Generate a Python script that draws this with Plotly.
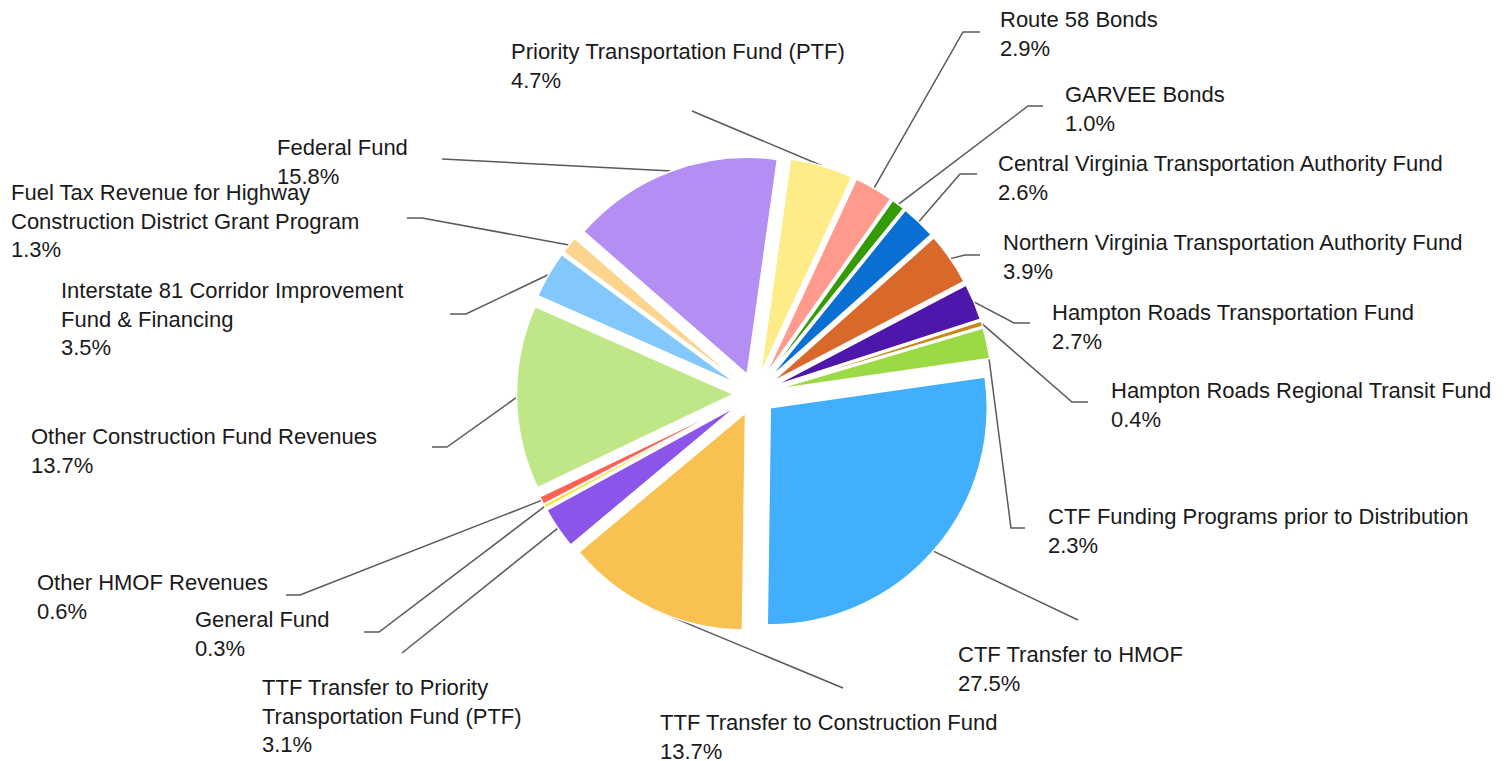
import math
import plotly.graph_objects as go

# ---------------- data ----------------
labels = [
    "Priority Transportation Fund (PTF)",
    "Route 58 Bonds",
    "GARVEE Bonds",
    "Central Virginia Transportation Authority Fund",
    "Northern Virginia Transportation Authority Fund",
    "Hampton Roads Transportation Fund",
    "Hampton Roads Regional Transit Fund",
    "CTF Funding Programs prior to Distribution",
    "CTF Transfer to HMOF",
    "TTF Transfer to Construction Fund",
    "TTF Transfer to Priority Transportation Fund (PTF)",
    "General Fund",
    "Other HMOF Revenues",
    "Other Construction Fund Revenues",
    "Interstate 81 Corridor Improvement Fund & Financing",
    "Fuel Tax Revenue for Highway Construction District Grant Program",
    "Federal Fund",
]
values = [4.7, 2.9, 1.0, 2.6, 3.9, 2.7, 0.4, 2.3, 27.5, 13.7, 3.1, 0.3, 0.6, 13.7, 3.5, 1.3, 15.8]
display_names = [
    "Priority Transportation Fund (PTF)",
    "Route 58 Bonds",
    "GARVEE Bonds",
    "Central Virginia Transportation Authority Fund",
    "Northern Virginia Transportation Authority Fund",
    "Hampton Roads Transportation Fund",
    "Hampton Roads Regional Transit Fund",
    "CTF Funding Programs prior to Distribution",
    "CTF Transfer to HMOF",
    "TTF Transfer to Construction Fund",
    "TTF Transfer to Priority<br>Transportation Fund (PTF)",
    "General Fund",
    "Other HMOF Revenues",
    "Other Construction Fund Revenues",
    "Interstate 81 Corridor Improvement<br>Fund & Financing",
    "Fuel Tax Revenue for Highway<br>Construction District Grant Program",
    "Federal Fund",
]

# ---------------- styles / layout ----------------
colors = [
    "#FEEC88", "#FF9A8D", "#349B06", "#0A6FD2", "#D9682B", "#4D17AB",
    "#C8891A", "#9CDA45", "#42AEFE", "#F9C152", "#8C55EA", "#F9E43E",
    "#FF6155", "#BFE787", "#82C8FD", "#FDD48D", "#B38EF3",
]
SCREEN_W, SCREEN_H = 1509, 761
PAGE_OFF = 8                       # default body margin of the html page
W, H = SCREEN_W - PAGE_OFF, SCREEN_H - PAGE_OFF
CX, CY = 754.5, 394.0              # pie centre (screen px)
R_PX = 217.0                       # pie radius (px)
PULL = 0.0968                      # explosion (fraction of radius)
ROTATION = 8.0
FONT = dict(family="Liberation Sans, Arial, Helvetica, sans-serif", size=22, color="#1a1a1a")
LINE_H = 22 * 1.3
LEADER_COLOR = "#595959"

# label text: left x, centre y of first line (screen px)
label_pos = [
    (510, 52), (999, 20), (1064, 95), (997, 164), (1002, 243), (1051, 313),
    (1110, 391), (1047, 517), (957, 655), (659, 723), (261, 687), (194, 620),
    (36, 583), (30, 437), (60, 290), (10, 192), (276, 148),
]
# leader points on the label side (screen px); the line then runs to the slice
leader_pts = [
    [(692, 111)],
    [(980, 32), (963, 32)],
    [(1043, 106), (1028, 106)],
    [(977, 174), (960, 174)],
    [(980, 255), (965, 255)],
    [(1030, 323), (1014, 323)],
    [(1088, 402), (1072, 402)],
    [(1025, 528), (1011, 528)],
    [(1078, 620)],
    [(843, 688)],
    [(402, 653)],
    [(364, 632), (379, 632)],
    [(286, 595), (300, 595)],
    [(432, 447), (447, 447)],
    [(450, 314), (466, 314)],
    [(407, 218), (422, 218)],
    [(442, 159)],
]

# ---------------- figure ----------------
fcx, fcy = CX - PAGE_OFF, CY - PAGE_OFF
box = 2 * R_PX * (1 + PULL)
y0 = 1 - (fcy + box / 2) / H
y1 = y0 + box / H
x0 = (fcx - box / 2 - 5) / W
x1 = (fcx + box / 2 + 5) / W

fig = go.Figure()
fig.add_trace(go.Pie(
    labels=labels, values=values, sort=False, direction="clockwise",
    rotation=ROTATION, pull=PULL, textinfo="none", hoverinfo="label+percent",
    marker=dict(colors=colors, line=dict(color="white", width=1.5)),
    domain=dict(x=[x0, x1], y=[y0, y1]), showlegend=False,
))

total = sum(values)
cum = 0.0
annotations = []
for i, v in enumerate(values):
    ang = math.radians(ROTATION + 360.0 * (cum + v / 2) / total)
    cum += v
    rr = R_PX * (1 + PULL)
    ax = CX + rr * math.sin(ang)
    ay = CY - rr * math.cos(ang)
    pts = leader_pts[i] + [(ax, ay)]
    fig.add_trace(go.Scatter(
        x=[p[0] for p in pts], y=[p[1] for p in pts], mode="lines",
        line=dict(color=LEADER_COLOR, width=1.5), hoverinfo="skip",
        showlegend=False, xaxis="x", yaxis="y",
    ))
    text = display_names[i] + "<br>" + f"{v:.1f}%"
    n_lines = text.count("<br>") + 1
    lx, ly = label_pos[i]
    annotations.append(dict(
        x=lx, y=ly + (n_lines - 1) * LINE_H / 2, xref="x", yref="y",
        text=text, showarrow=False, xanchor="left", yanchor="middle",
        align="left", font=FONT, borderpad=0,
    ))

fig.update_layout(
    width=W, height=H, margin=dict(l=0, r=0, t=0, b=0),
    paper_bgcolor="white", plot_bgcolor="rgba(0,0,0,0)",
    xaxis=dict(range=[PAGE_OFF, SCREEN_W], visible=False, fixedrange=True, domain=[0, 1]),
    yaxis=dict(range=[SCREEN_H, PAGE_OFF], visible=False, fixedrange=True, domain=[0, 1]),
    annotations=annotations, font=FONT,
)

fig.write_html("out.html", config={"displayModeBar": False})
